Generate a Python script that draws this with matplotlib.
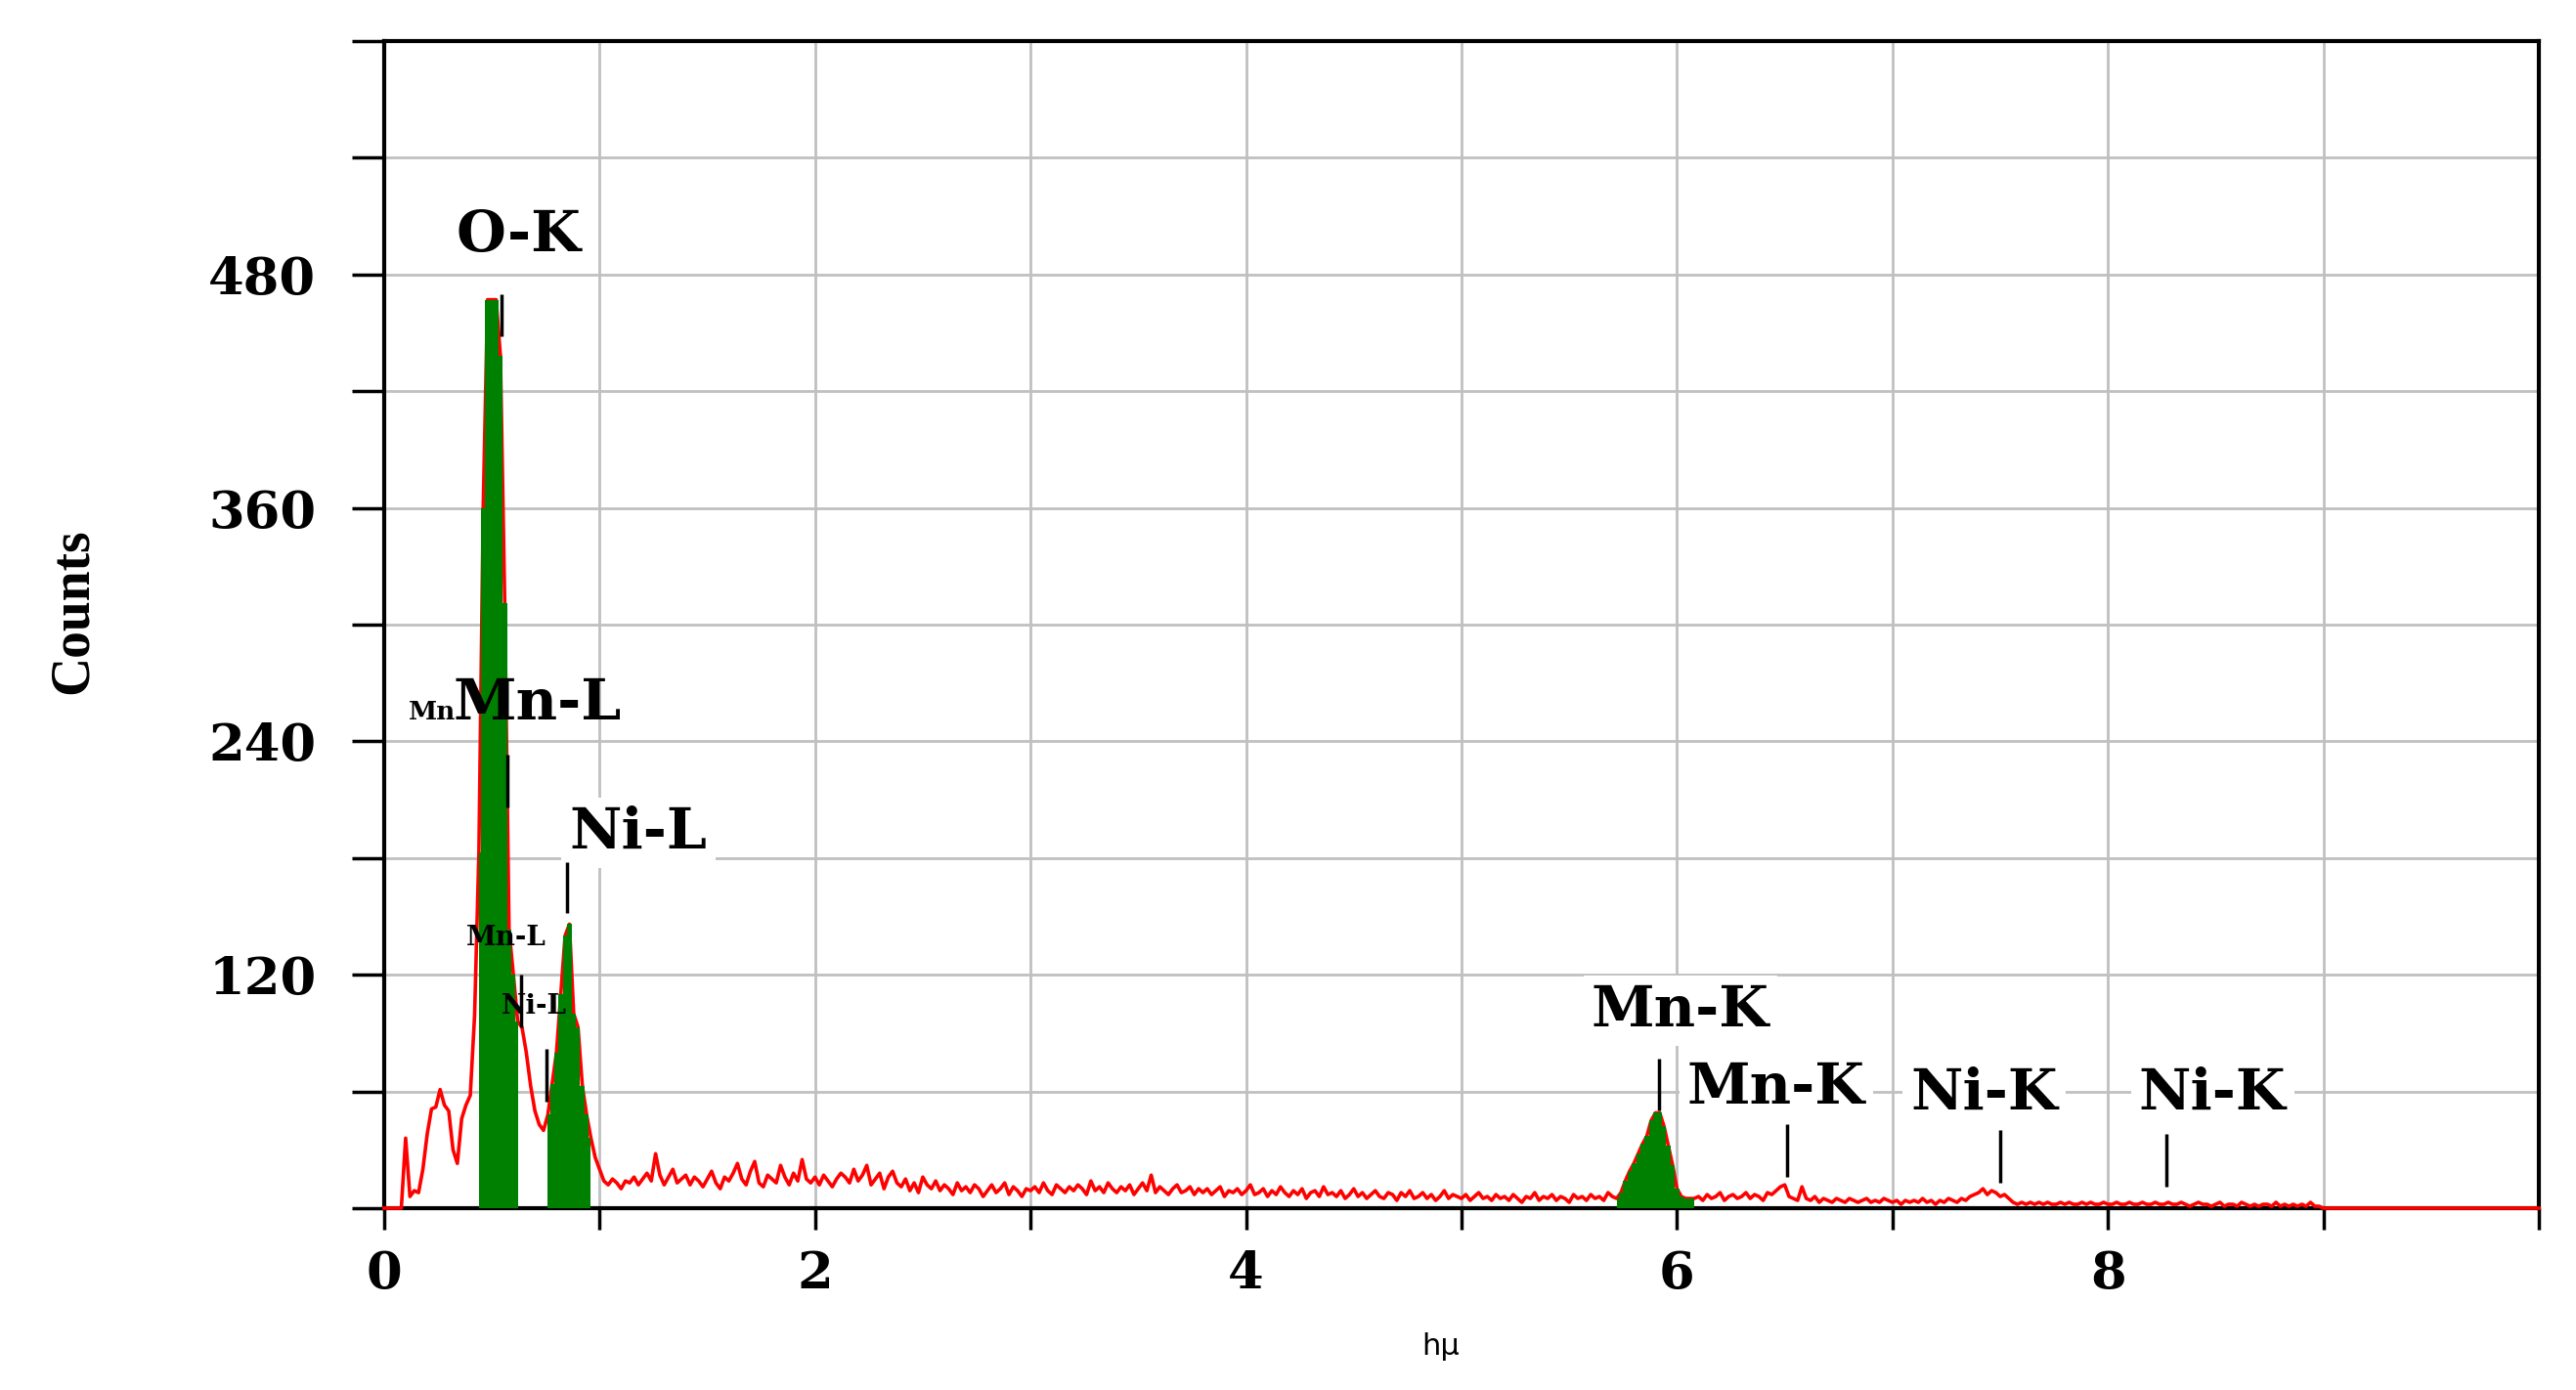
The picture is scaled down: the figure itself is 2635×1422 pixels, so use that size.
import numpy as np
import matplotlib.pyplot as plt

# --- EDS spectrum, counts per 0.02 keV channel ---
step = 0.02

# 0.00 - 0.98 keV (O-K, Mn-L, Ni-L region)
counts_low = [0, 0, 0, 0, 0, 36, 6, 9, 8, 20,
              38, 51, 52, 61, 53, 50, 30, 23, 46, 53,
              58, 99, 183, 360, 467, 467, 467, 438, 311, 143,
              120, 96, 93, 80, 63, 50, 43, 40, 48, 64,
              80, 110, 140, 146, 100, 93, 63, 48, 36, 26]

# 1.00 - 5.70 keV background
counts_bg = [20, 14, 12, 15, 13, 10, 14, 13, 16, 12,
             15, 18, 14, 28, 17, 12, 16, 20, 13, 15,
             17, 12, 16, 14, 11, 15, 19, 13, 10, 16,
             14, 18, 23, 15, 12, 19, 24, 13, 11, 17,
             15, 13, 22, 16, 12, 18, 14, 25, 15, 13,
             16, 12, 17, 14, 11, 15, 18, 16, 13, 20,
             14, 17, 22, 12, 15, 18, 10, 16, 19, 13,
             11, 15, 9, 13, 8, 16, 12, 10, 14, 9,
             12, 10, 7, 13, 9, 11, 8, 12, 10, 6,
             9, 12, 8, 10, 13, 7, 11, 9, 6, 10,
             9, 11, 8, 13, 9, 7, 12, 10, 8, 11,
             9, 12, 10, 7, 14, 9, 11, 8, 13, 10,
             8, 11, 9, 12, 7, 10, 13, 9, 17, 8,
             11, 9, 7, 10, 12, 8, 9, 11, 7, 10,
             8, 10, 7, 9, 11, 6, 9, 8, 10, 7,
             9, 12, 7, 8, 10, 6, 9, 7, 11, 8,
             6, 9, 7, 10, 5, 8, 9, 6, 11, 7,
             8, 6, 9, 5, 7, 10, 6, 8, 5, 7,
             9, 6, 5, 8, 7, 4, 8, 6, 9, 5,
             6, 8, 5, 7, 4, 6, 9, 5, 7, 6,
             5, 7, 4, 6, 8, 5, 6, 4, 7, 5,
             6, 4, 7, 5, 3, 6, 5, 8, 4, 6,
             5, 7, 4, 6, 5, 3, 7, 5, 6, 4,
             7, 5, 6, 4, 8, 6]

# 5.72 - 6.08 keV (Mn-K)
counts_mnk = [5, 8, 14, 19, 23, 28, 33, 37, 45, 49,
              49, 42, 32, 22, 10, 6, 5, 5, 5]

# 6.10 - 9.00 keV
counts_tail = [6, 4, 7, 5, 6, 8, 4, 6, 7, 5,
               6, 8, 5, 7, 6, 4, 8, 7, 9, 11,
               12, 6, 5, 4, 11, 5, 4, 6, 3, 5,
               4, 3, 5, 4, 3, 5, 4, 3, 4, 5,
               3, 4, 3, 5, 4, 3, 4, 2, 4, 3,
               4, 3, 5, 3, 4, 2, 4, 3, 5, 4,
               3, 5, 4, 6, 7, 8, 10, 7, 9, 8,
               6, 7, 5, 3, 2, 3, 2, 3, 2, 3,
               2, 3, 2, 2, 3, 2, 3, 2, 2, 3,
               2, 3, 2, 2, 3, 2, 2, 3, 2, 2,
               3, 2, 2, 3, 2, 2, 3, 2, 2, 3,
               2, 2, 3, 2, 1, 2, 3, 2, 2, 1,
               2, 3, 1, 2, 2, 1, 3, 2, 1, 2,
               1, 2, 2, 1, 3, 1, 2, 1, 2, 1,
               2, 1, 3, 1, 1, 0]

counts = np.array(counts_low + counts_bg + counts_mnk + counts_tail, dtype=float)
counts = np.concatenate([counts, np.zeros(50)])   # flat to 10 keV
energy = np.arange(len(counts)) * step

# filled (green) peak windows, keV
peak_windows = [(0.44, 0.62), (0.76, 0.96), (5.72, 6.08)]

# peak marker lines: energy, bottom, top (counts)
marker_e = [0.545, 0.57, 0.85, 0.636, 0.755, 5.918, 6.51, 7.50, 8.27]
marker_lo = [448, 206, 152, 93, 55, 50, 16, 13, 11]
marker_hi = [470, 233, 178, 120, 82, 77, 43, 40, 38]

# labels: text, x (keV), baseline (counts), size, white box
labels = [("O-K", 0.626, 492, 42, True),
          ("Mn-L", 0.712, 251, 42, False),
          ("Mn", 0.225, 251, 19, False),
          ("Ni-L", 1.18, 185, 42, True),
          ("Mn-L", 0.567, 135, 20, False),
          ("Ni-L", 0.694, 100, 20, False),
          ("Mn-K", 6.016, 93.5, 42, True),
          ("Mn-K", 6.461, 54, 42, True),
          ("Ni-K", 7.427, 51, 42, True),
          ("Ni-K", 8.485, 51, 42, True)]

y_ticks = np.arange(0, 601, 60)
y_ticklabels = ["" if v not in (120, 240, 360, 480) else str(v) for v in y_ticks]
x_ticks = np.arange(0, 11, 1)
x_ticklabels = [str(v) if v % 2 == 0 and v < 10 else "" for v in x_ticks]

# --- Figure ---
fig = plt.figure(figsize=(26.35, 14.22), dpi=100)
ax = fig.add_axes([0.1491, 0.1308, 0.8365, 0.8397])

ax.plot(energy, counts, color='#ff0000', lw=2.6, zorder=3, clip_on=False)
for lo, hi in peak_windows:
    m = (energy >= lo - 1e-9) & (energy <= hi + 1e-9)
    ax.fill_between(energy[m], 0, counts[m], step='mid', color='#008000', lw=0, zorder=3.5)

ax.vlines(marker_e, marker_lo, marker_hi, color='black', lw=2.5, zorder=6)

for txt, xe, yb, size, boxed in labels:
    kw = dict(ha='center', va='baseline', fontsize=size, fontweight='bold',
              family='DejaVu Serif', color='black', zorder=5)
    if boxed:
        kw['bbox'] = dict(facecolor='white', edgecolor='none', pad=6)
    ax.text(xe, yb, txt, **kw)

ax.set_xlim(0, 10)
ax.set_ylim(0, 600)
ax.set_xticks(x_ticks)
ax.set_xticklabels(x_ticklabels)
ax.set_yticks(y_ticks)
ax.set_yticklabels(y_ticklabels)
ax.grid(True, color='#c0c0c0', lw=2)
ax.set_axisbelow(True)

for lab in ax.get_xticklabels() + ax.get_yticklabels():
    lab.set_family('DejaVu Serif')
    lab.set_fontweight('bold')
    lab.set_fontsize(38)

ax.tick_params(axis='y', direction='out', length=24, width=2.5, pad=26)
ax.tick_params(axis='x', direction='out', length=16, width=2.5, pad=14)
for s in ax.spines.values():
    s.set_linewidth(3)
    s.set_color('black')

fig.text(0.0285, 0.56, "Counts", rotation=90, ha='center', va='center',
         fontsize=40, family='Liberation Serif', fontweight='bold')
fig.text(0.5594, 0.0316, "hμ", ha='center', va='center', fontsize=22,
         family='DejaVu Sans')

fig.savefig('out.png', dpi=100)
